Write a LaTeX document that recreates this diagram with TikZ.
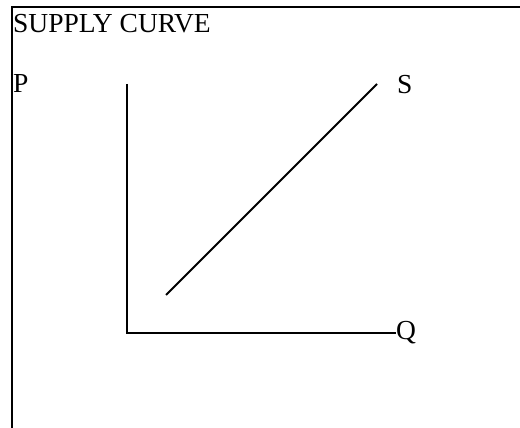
\documentclass[tikz,border=0pt]{standalone}
\usepackage{fontspec}
\setmainfont{Liberation Serif}
\begin{document}
\begin{tikzpicture}[x=1pt,y=-1pt,
  lbl/.style={anchor=base west,inner sep=0pt,font=\fontsize{27.5}{32}\selectfont},
  frame/.style={line width=1.6pt},
  axis/.style={line width=1.6pt},
  curve/.style={line width=2pt}]
\useasboundingbox (0,0) rectangle (520,428);
\draw[frame] (520,7) -- (12,7) -- (12,428);
\node[lbl] (title) at (13,33) {SUPPLY CURVE};
\node[lbl] (P) at (13,93) {P};
\node[lbl] (S) at (397,94) {S};
\node[lbl] (Q) at (396,339) {Q};
\coordinate (top) at (127,84);
\coordinate (origin) at (127,333);
\coordinate (qend) at (396,333);
\coordinate (s1) at (166,295);
\coordinate (s2) at (377,84);
\draw[axis] (top) -- (origin) -- (qend);
\draw[curve] (s1) -- (s2);
\end{tikzpicture}
\end{document}
